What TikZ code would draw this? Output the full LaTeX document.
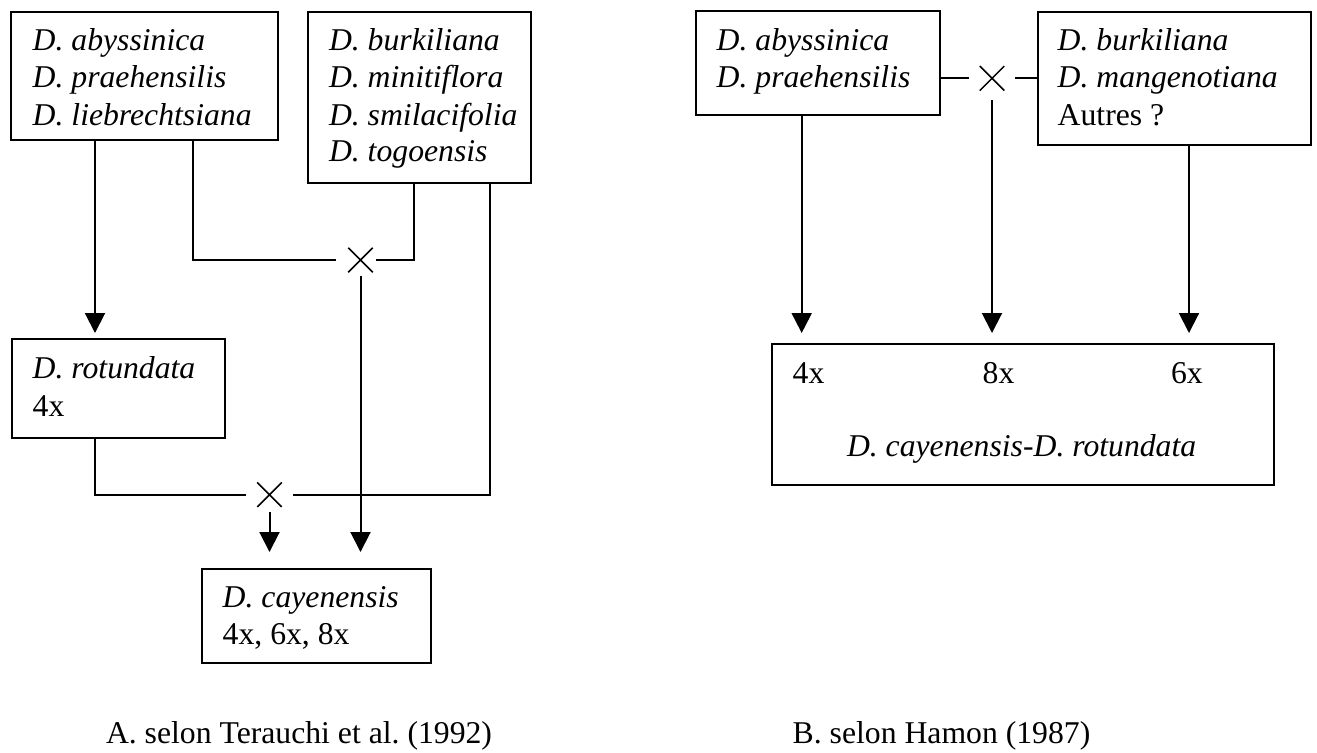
\documentclass[tikz,border=0pt]{standalone}
\usepackage{fontspec}
\setmainfont{Liberation Serif}
\usetikzlibrary{arrows.meta,shapes.misc}

\begin{document}
\begin{tikzpicture}[x=0.5pt,y=-0.5pt,line width=1pt,
	box/.style={draw,rectangle,inner sep=0pt,anchor=north west},
	txt/.style={anchor=base west,inner sep=0pt,font=\fontsize{15.85pt}{18.5pt}\selectfont},
	kreuz/.style={draw,cross out,inner sep=0pt,minimum size=11.5pt,line width=0.75pt},
	arr/.style={-{Triangle[length=10pt,width=10pt]}}]
			\useasboundingbox (0,0) rectangle (1317,752);
		
			% A. Terauchi
			\node[box,minimum width=133.5pt,minimum height=64pt] (abys) at (10,11) {};
			\node[box,minimum width=111.5pt,minimum height=85.5pt] (burk) at (307,11) {};
			\node[box,minimum width=106.5pt,minimum height=49.5pt] (rotu) at (11,338) {};
			\node[box,minimum width=114.3pt,minimum height=47pt] (caye) at (201,568) {};
		
			\node[txt] (abys1) at (31.7,50.7) {\textit{D. abyssinica}};
			\node[txt] (abys2) at (31.7,87.3) {\textit{D. praehensilis}};
			\node[txt] (abys3) at (31.7,125) {\textit{D. liebrechtsiana}};
			\node[txt] (burk1) at (328,50.7) {\textit{D. burkiliana}};
			\node[txt] (burk2) at (328,87.3) {\textit{D. minitiflora}};
			\node[txt] (burk3) at (328,125) {\textit{D. smilacifolia}};
			\node[txt] (burk4) at (328,161.7) {\textit{D. togoensis}};
			\node[txt] (rotu1) at (31.7,378.3) {\textit{D. rotundata}};
			\node[txt] (rotu2) at (31.7,416) {4x};
			\node[txt] (caye1) at (221.7,607.7) {\textit{D. cayenensis}};
			\node[txt] (caye2) at (221.7,644) {4x, 6x, 8x};
		
			\node[kreuz] (xa) at (360.5,260) {};
			\node[kreuz] (xb) at (269.5,494.7) {};
		
			\coordinate (ka) at (193,260);
			\coordinate (kb) at (414,260);
			\coordinate (kc) at (490,494.7);
			\coordinate (kd) at (95,494.7);
		
			\draw[arr,shorten >=2.5pt] (abys.south -| kd) -- (rotu.north -| kd);
			\draw[shorten >=6pt] (abys.south -| ka) |- (xa);
			\draw[shorten <=1.5pt] (xa) -| (burk.south -| kb);
			\draw[arr,shorten <=2pt,shorten >=8pt] (xa) -- (caye.north -| xa);
			\draw[shorten >=5.5pt] (rotu.south -| kd) |- (xb);
			\draw[shorten >=5.5pt] (burk.south -| kc) |- (xb);
			\draw[arr,shorten <=2.5pt,shorten >=8pt] (xb) -- (caye.north -| xb);
		
			% B. Hamon
			\node[box,minimum width=121.8pt,minimum height=51.85pt] (abysB) at (695,10) {};
			\node[box,minimum width=136.7pt,minimum height=66.5pt] (burkB) at (1037,11) {};
			\node[box,minimum width=251.15pt,minimum height=70.35pt] (hyb) at (771,343) {};
		
			\node[txt] (abysB1) at (715.7,50.7) {\textit{D. abyssinica}};
			\node[txt] (abysB2) at (715.7,87.3) {\textit{D. praehensilis}};
			\node[txt] (burkB1) at (1056.7,50) {\textit{D. burkiliana}};
			\node[txt] (burkB2) at (1056.7,87.3) {\textit{D. mangenotiana}};
			\node[txt] (burkB3) at (1056.7,125) {Autres ?};
			\node[txt] (hyb4) at (791.7,383) {4x};
			\node[txt] (hyb8) at (981.7,383) {8x};
			\node[txt] (hyb6) at (1170,383) {6x};
			\node[txt] (hyb0) at (846,456.7) {\textit{D. cayenensis-D. rotundata}};
		
			\node[kreuz] (xc) at (992,78.3) {};
		
			\coordinate (kf) at (801.7,0);
			\coordinate (kg) at (1189,0);
		
			\draw[shorten >=5.5pt] (abysB.east |- xc) -- (xc);
			\draw[shorten <=5.5pt] (xc) -- (burkB.west |- xc);
			\draw[arr,shorten >=5pt] (abysB.south -| kf) -- (hyb.north -| kf);
			\draw[arr,shorten <=4.75pt,shorten >=5pt] (xc) -- (hyb.north -| xc);
			\draw[arr,shorten >=5pt] (burkB.south -| kg) -- (hyb.north -| kg);
		
			\node[txt] (capA) at (105,743) {A. selon Terauchi et al.\ (1992)};
			\node[txt] (capB) at (791.7,743) {B. selon Hamon (1987)};
		\end{tikzpicture}
\end{document}
